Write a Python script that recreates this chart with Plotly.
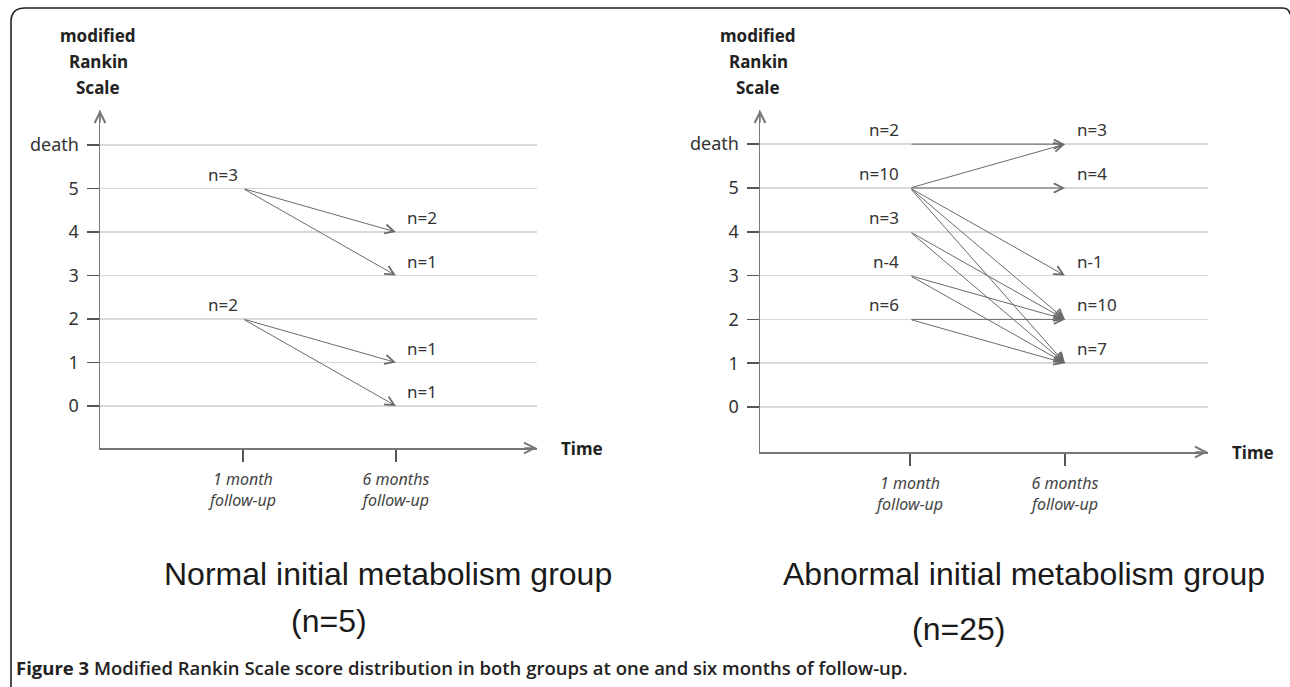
import plotly.graph_objects as go

# ---------------- data ----------------
score_vals = [0, 1, 2, 3, 4, 5, 6]
score_labels = ["0", "1", "2", "3", "4", "5", "death"]
time_vals = [1, 2]
time_labels = ["1 month<br>follow-up", "6 months<br>follow-up"]
y_title_lines = ["modified", "Rankin", "Scale"]
x_title = "Time"

left_from = [5, 5, 2, 2]
left_to = [4, 3, 1, 0]
left_start_scores = [5, 2]
left_start_text = ["n=3", "n=2"]
left_end_scores = [4, 3, 1, 0]
left_end_text = ["n=2", "n=1", "n=1", "n=1"]

right_from = [6, 5, 5, 5, 5, 5, 4, 4, 3, 3, 2, 2]
right_to = [6, 6, 5, 3, 2, 1, 2, 1, 2, 1, 2, 1]
right_start_scores = [6, 5, 4, 3, 2]
right_start_text = ["n=2", "n=10", "n=3", "n-4", "n=6"]
right_end_scores = [6, 5, 3, 2, 1]
right_end_text = ["n=3", "n=4", "n-1", "n=10", "n=7"]

group_titles = ["Normal initial metabolism group", "Abnormal initial metabolism group"]
group_sizes = ["(n=5)", "(n=25)"]
caption_bold = "Figure 3"
caption_text = "Modified Rankin Scale score distribution in both groups at one and six months of follow-up."

# ---------------- layout helpers ----------------
W, H = 1290, 687
def px(x):
    return x / W
def py(y):
    return 1 - y / H

FONT = "Noto Sans"
AXIS_COLOR = "#777777"
GRID_COLOR = "#d9d9d9"
ARROW_COLOR = "#6a6a6a"
TEXT_COLOR = "#333333"
SUB_FONT = "Liberation Sans"

panels = [
    dict(xs="", ys="", xo="3", xdom=(100, 537), ydom=(110, 448),
         xr=(0.0654, 2.922), yr=(-0.9655, 6.805),
         frm=left_from, to=left_to,
         ss=left_start_scores, st=left_start_text,
         es=left_end_scores, et=left_end_text,
         sshift=-3, eshift=9,
         title=group_titles[0], size=group_sizes[0],
         tpos=(px(388), py(574)), spos=(px(329), py(621))),
    dict(xs="2", ys="2", xo="4", xdom=(760, 1208), ydom=(110, 452),
         xr=(0.032, 2.923), yr=(-1.027, 6.78),
         frm=right_from, to=right_to,
         ss=right_start_scores, st=right_start_text,
         es=right_end_scores, et=right_end_text,
         sshift=-9, eshift=10,
         title=group_titles[1], size=group_sizes[1],
         tpos=(px(1024), py(574)), spos=(px(958), py(629))),
]

fig = go.Figure()
annotations = []
shapes = []
layout = dict(
    width=W, height=H,
    margin=dict(l=0, r=0, t=0, b=0),
    paper_bgcolor="white", plot_bgcolor="white",
    showlegend=False,
    font=dict(family=FONT, color=TEXT_COLOR, size=17),
)

for p in panels:
    xa = "x" + p["xs"]
    ya = "y" + p["ys"]
    xlay = "xaxis" + p["xs"]
    ylay = "yaxis" + p["ys"]
    # invisible trace so the axes pair exists
    fig.add_trace(go.Scatter(x=[1, 2], y=[p["frm"][0], p["to"][0]], xaxis=xa, yaxis=ya,
                             mode="markers", marker=dict(opacity=0), hoverinfo="skip"))
    layout[xlay] = dict(
        domain=[px(p["xdom"][0]), px(p["xdom"][1])], range=list(p["xr"]),
        anchor=ya, showgrid=False, zeroline=False,
        showline=True, linecolor=AXIS_COLOR, linewidth=1.5,
        tickmode="array", tickvals=time_vals, ticktext=time_labels,
        ticks="outside", ticklen=12, tickwidth=1.5, tickcolor="#555555",
        tickfont=dict(family=FONT, size=16, color="#444444", style="italic"),
        ticklabelstandoff=4,
        fixedrange=True,
    )
    # overlay axis only for the upper half of the crossing ticks
    layout["xaxis" + p["xo"]] = dict(
        overlaying=xa, anchor=ya, range=list(p["xr"]),
        showgrid=False, zeroline=False, showline=False,
        tickmode="array", tickvals=time_vals, showticklabels=False,
        ticks="inside", ticklen=13, tickwidth=1.5, tickcolor="#555555",
        fixedrange=True,
    )
    layout[ylay] = dict(
        domain=[py(p["ydom"][1]), py(p["ydom"][0])], range=list(p["yr"]),
        anchor=xa, showgrid=True, gridcolor=GRID_COLOR, gridwidth=1.5, zeroline=False,
        showline=True, linecolor=AXIS_COLOR, linewidth=1.5,
        tickmode="array", tickvals=score_vals, ticktext=score_labels,
        ticks="outside", ticklen=12, tickwidth=1.5, tickcolor="#555555",
        tickfont=dict(family=FONT, size=18, color=TEXT_COLOR),
        ticklabelstandoff=4,
        fixedrange=True,
    )
    # axis arrowheads
    annotations.append(dict(xref=xa + " domain", yref=ya + " domain", x=0, y=1,
                            ax=0, ay=14, showarrow=True, arrowhead=5, arrowsize=1.4,
                            arrowwidth=1.5, arrowcolor=AXIS_COLOR, text=""))
    annotations.append(dict(xref=xa + " domain", yref=ya + " domain", x=1, y=0,
                            ax=-14, ay=0, showarrow=True, arrowhead=5, arrowsize=1.4,
                            arrowwidth=1.5, arrowcolor=AXIS_COLOR, text=""))
    # axis titles
    for i, line in enumerate(y_title_lines):
        annotations.append(dict(xref=xa + " domain", yref=ya + " domain", x=0, y=1,
                                yshift=75 - 26 * i, xshift=-2, xanchor="center", yanchor="middle",
                                text="<b>" + line + "</b>", showarrow=False,
                                font=dict(family=FONT, size=17, color="#222222")))
    annotations.append(dict(xref=xa + " domain", yref=ya + " domain", x=1, y=0,
                            xshift=22, xanchor="left", yanchor="middle",
                            text="<b>" + x_title + "</b>", showarrow=False,
                            font=dict(family=FONT, size=17, color="#222222")))
    # transition arrows
    for f, t in zip(p["frm"], p["to"]):
        annotations.append(dict(xref=xa, yref=ya, axref=xa, ayref=ya,
                                x=time_vals[1], y=t, ax=time_vals[0], ay=f,
                                showarrow=True, arrowhead=5, arrowsize=1.8, arrowwidth=1,
                                arrowcolor=ARROW_COLOR, standoff=0, text=""))
    # n labels
    for s, txt in zip(p["ss"], p["st"]):
        annotations.append(dict(xref=xa, yref=ya, x=time_vals[0], y=s, text=txt,
                                xanchor="right", yanchor="bottom", xshift=p["sshift"], yshift=1,
                                showarrow=False, font=dict(family=FONT, size=17, color=TEXT_COLOR)))
    for s, txt in zip(p["es"], p["et"]):
        annotations.append(dict(xref=xa, yref=ya, x=time_vals[1], y=s, text=txt,
                                xanchor="left", yanchor="bottom", xshift=p["eshift"], yshift=1,
                                showarrow=False, font=dict(family=FONT, size=17, color=TEXT_COLOR)))
    # group titles
    annotations.append(dict(xref="paper", yref="paper", x=p["tpos"][0], y=p["tpos"][1],
                            text=p["title"], showarrow=False, xanchor="center", yanchor="middle",
                            font=dict(family=SUB_FONT, size=32, color="#1a1a1a")))
    annotations.append(dict(xref="paper", yref="paper", x=p["spos"][0], y=p["spos"][1],
                            text=p["size"], showarrow=False, xanchor="center", yanchor="middle",
                            font=dict(family=SUB_FONT, size=32, color="#1a1a1a")))

# caption
annotations.append(dict(xref="paper", yref="paper", x=px(14), y=py(667),
                        text="<b>" + caption_bold + "</b> " + caption_text,
                        showarrow=False, xanchor="left", yanchor="middle",
                        font=dict(family="Open Sans", size=18.5, weight=600, color="#222222")))

# rounded frame
border = (f"M {px(11)},{py(687)} L {px(11)},{py(22)} "
          f"Q {px(11)},{py(8)} {px(25)},{py(8)} "
          f"L {px(1282)},{py(8)} Q {px(1289)},{py(8)} {px(1290)},{py(14)}")
shapes.append(dict(type="path", xref="paper", yref="paper", path=border,
                   line=dict(color="#222222", width=1.6)))

layout["annotations"] = annotations
layout["shapes"] = shapes
fig.update_layout(**layout)
fig.write_html("out.html",
               config={"displayModeBar": False, "staticPlot": True},
               post_script="document.body.style.margin='0';document.body.style.overflow='hidden';")
